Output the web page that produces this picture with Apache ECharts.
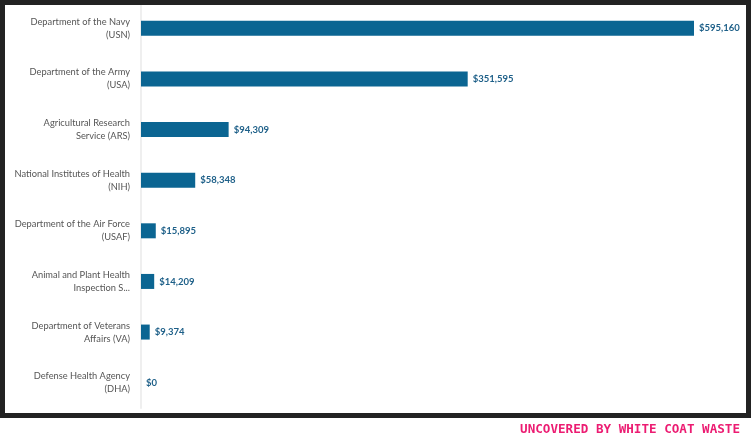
<!DOCTYPE html>
<html>
	<head>
		<meta charset="utf-8">
		<title></title>
		<script type="text/javascript" src="https://cdn.jsdelivr.net/npm/echarts@6/dist/echarts.min.js"></script>
		<style>
			html, body { margin: 0; padding: 0; background: #fff; }
		</style>
	</head>
	<body>
		<div id="chart" style="width:751px;height:440px;"></div>
		<script type="text/javascript">
			// 机构名称
			var agencies = [
				'Department of the Navy\n(USN)',
				'Department of the Army\n(USA)',
				'Agricultural Research\nService (ARS)',
				'National Institutes of Health\n(NIH)',
				'Department of the Air Force\n(USAF)',
				'Animal and Plant Health\nInspection S...',
				'Department of Veterans\nAffairs (VA)',
				'Defense Health Agency\n(DHA)'
			];
			// 金额
			var amounts = [595160, 351595, 94309, 58348, 15895, 14209, 9374, 0];

			var sourceText = 'UNCOVERED BY WHITE COAT WASTE';

			function money(v) {
				return '$' + v.toLocaleString('en-US');
			}

			var myChart = echarts.init(document.getElementById('chart'));
			var option = {
				animation: false,
				grid: {
					left: 141,
					right: 57,
					top: 3,
					bottom: 32
				},
				xAxis: {
					type: 'value',
					min: 0,
					max: 595160,
					show: false
				},
				yAxis: {
					type: 'category',
					inverse: true,
					data: agencies,
					axisLine: { lineStyle: { color: '#efefef', width: 2 } },
					axisTick: { show: false },
					axisLabel: {
						margin: 11,
						color: '#555',
						fontFamily: 'Lato',
						fontSize: 9.3,
						lineHeight: 13,
						align: 'right'
					}
				},
				series: [{
					type: 'bar',
					data: amounts,
					barWidth: 15,
					itemStyle: { color: '#0b6592' },
					label: {
						show: true,
						position: 'right',
						distance: 5,
						color: '#1d5f88',
						fontFamily: 'Lato',
						fontWeight: 'bold',
						fontSize: 9.5,
						formatter: function(p) { return money(p.value); }
					}
				}],
				graphic: [
					{
						type: 'rect',
						shape: { x: 2.5, y: 2.5, width: 746, height: 413 },
						style: { fill: null, stroke: '#222', lineWidth: 5 },
						z: 100
					},
					{
						type: 'text',
						right: 11,
						top: 423,
						style: {
							text: sourceText,
							fill: '#ec1c72',
							font: 'bold 12.6px "DejaVu Sans Mono"'
						}
					}
				]
			};
			myChart.setOption(option);
		</script>
	</body>
</html>
